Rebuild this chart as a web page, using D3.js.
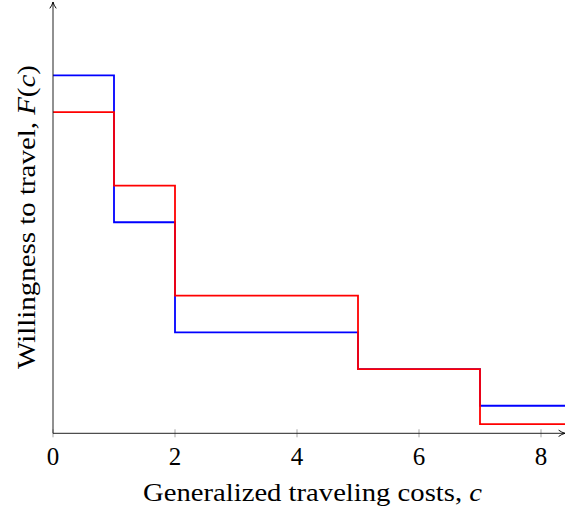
<!DOCTYPE html>
<html>
<head>
<meta charset="utf-8">
<script src="https://cdn.jsdelivr.net/npm/d3@7"></script>
<style>
  body { margin: 0; background: #fff; }
  svg { display: block; }
  text { font-family: "Liberation Serif", "DejaVu Serif", serif; fill: #000; }
</style>
</head>
<body>
<svg id="chart" width="565" height="511"></svg>
<script>
// step breakpoints along the cost axis
const costs = [0, 1, 2, 5, 7, 8.4];
// level of each step (one per interval)
const blueLevels = [10, 6, 3, 2, 1];
const redLevels = [9, 7, 4, 2, 0.5];
const xTicks = [0, 2, 4, 6, 8];

const svg = d3.select("#chart");

const x = d3.scaleLinear().domain([0, 8.4]).range([53, 565.4]);
const y = d3.scaleLinear().domain([0.25, 12]).range([433.3, 2]);

// build a step path: vertical drop at each breakpoint
function stepPoints(levels) {
    var pts = [];
    levels.forEach((v, i) => {
        pts.push([costs[i], v]);
        pts.push([costs[i + 1], v]);
    });
    return pts;
}

const line = d3.line()
    .x(d => x(d[0]))
    .y(d => y(d[1]));

svg.append("defs").append("marker")
    .attr("id", "arrow")
    .attr("viewBox", "0 0 10 10")
    .attr("refX", 9).attr("refY", 5)
    .attr("markerWidth", 8).attr("markerHeight", 8)
    .attr("markerUnits", "userSpaceOnUse")
    .attr("orient", "auto")
    .append("path")
    .attr("d", "M1,1 Q5,4 9,5 Q5,6 1,9")
    .attr("fill", "none")
    .attr("stroke", "#000")
    .attr("stroke-width", 1.2);

// x ticks (cross the axis line)
svg.append("g")
    .selectAll("line")
    .data(xTicks)
    .join("line")
    .attr("x1", d => x(d)).attr("x2", d => x(d))
    .attr("y1", y(0.25) - 4).attr("y2", y(0.25) + 4)
    .attr("stroke", "#999")
    .attr("stroke-width", 0.9);

svg.append("g")
    .selectAll("text")
    .data(xTicks)
    .join("text")
    .attr("x", d => x(d))
    .attr("y", 464.5)
    .attr("text-anchor", "middle")
    .style("font-size", "25px")
    .text(d => d);

// series
svg.append("path")
    .attr("d", line(stepPoints(blueLevels)))
    .attr("fill", "none")
    .attr("stroke", "#0000ff")
    .attr("stroke-width", 1.8);

svg.append("path")
    .attr("d", line(stepPoints(redLevels)))
    .attr("fill", "none")
    .attr("stroke", "#ff0000")
    .attr("stroke-width", 1.8);

// axis lines with arrows
svg.append("line")
    .attr("x1", x(0)).attr("x2", x(0))
    .attr("y1", y(0.25)).attr("y2", y(12))
    .attr("stroke", "#222").attr("stroke-width", 1)
    .attr("marker-end", "url(#arrow)");

svg.append("line")
    .attr("x1", x(0)).attr("x2", 565)
    .attr("y1", y(0.25)).attr("y2", y(0.25))
    .attr("stroke", "#222").attr("stroke-width", 1)
    .attr("marker-end", "url(#arrow)");

// axis labels (stretched to the width of the original TeX labels)
const xl = svg.append("text")
    .attr("x", 143)
    .attr("y", 501)
    .attr("textLength", 339)
    .attr("lengthAdjust", "spacingAndGlyphs")
    .style("font-size", "25px");
xl.append("tspan").text("Generalized traveling costs, ");
xl.append("tspan").style("font-style", "italic").text("c");

const yl = svg.append("text")
    .attr("transform", "translate(35,369) rotate(-90)")
    .attr("textLength", 304)
    .attr("lengthAdjust", "spacingAndGlyphs")
    .style("font-size", "25px");
yl.append("tspan").text("Willingness to travel, ");
yl.append("tspan").style("font-style", "italic").text("F");
yl.append("tspan").text("(");
yl.append("tspan").style("font-style", "italic").text("c");
yl.append("tspan").text(")");
</script>
</body>
</html>
